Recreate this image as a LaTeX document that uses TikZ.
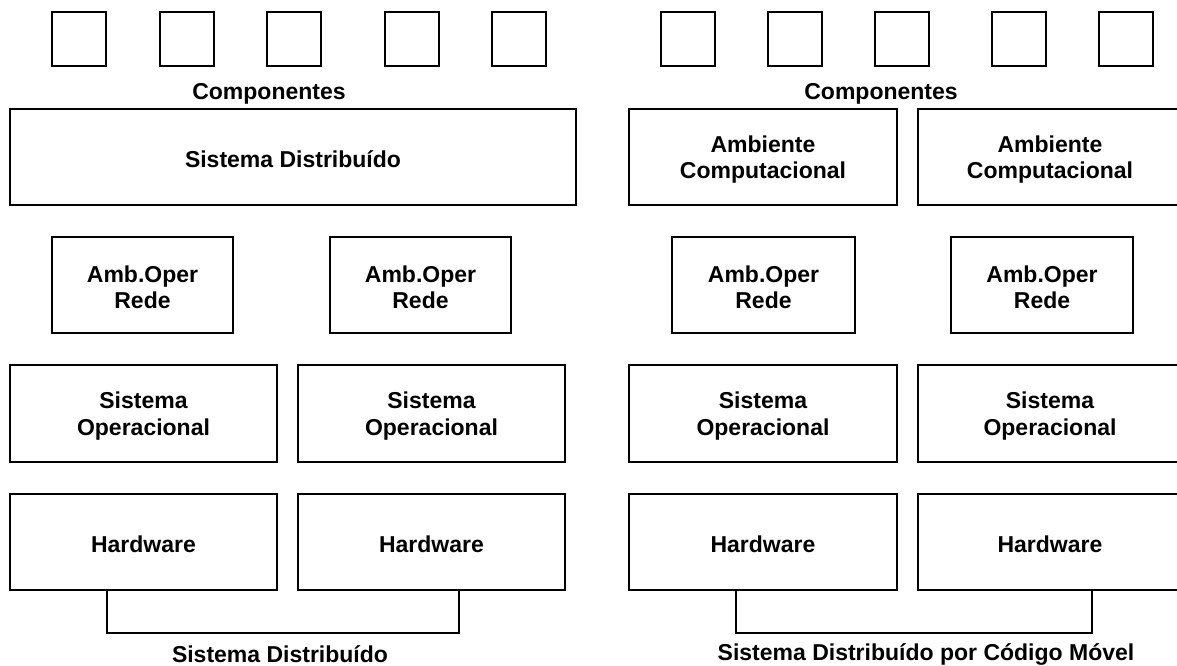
\documentclass[tikz,border=0pt]{standalone}
\usepackage{fontspec}
\setmainfont{Liberation Sans}
\tikzset{
  lbl/.style={inner sep=0pt, align=center, font=\bfseries\fontsize{23}{26.5}\selectfont},
  box/.style={draw=black, line width=1.2pt, rectangle, inner sep=0pt},
  link/.style={draw=black, line width=1.2pt}
}
\newcommand{\bx}[6]{%
  \node[box, minimum width={#4-#2}, minimum height={#5-#3},
    label={[lbl, yshift=-2.5pt]center:{#6}}] (#1) at ({(#2+#4)/2},{(#3+#5)/2}) {};}
\begin{document}
\begin{tikzpicture}[x=1pt,y=-1pt]
\useasboundingbox (0,0) rectangle (1177,666);
\clip (0,0) rectangle (1177,666);
% left column - components
\bx{cl1}{52}{12}{106}{66}{}
\bx{cl2}{160}{12}{214}{66}{}
\bx{cl3}{267}{12}{321}{66}{}
\bx{cl4}{385}{12}{439}{66}{}
\bx{cl5}{492}{12}{546}{66}{}
\node[lbl] (compl) at (269,94) {Componentes};
\bx{sdl}{10}{109}{576}{205}{Sistema Distribuído}
\bx{aol1}{52}{237}{233}{333}{Amb.Oper\\Rede}
\bx{aol2}{330}{237}{511}{333}{Amb.Oper\\Rede}
\bx{sol1}{10}{365}{277}{462}{Sistema\\Operacional}
\bx{sol2}{298}{365}{565}{462}{Sistema\\Operacional}
\bx{hwl1}{10}{494}{277}{590}{Hardware}
\bx{hwl2}{298}{494}{565}{590}{Hardware}
\coordinate (bl1) at (107,633);
\coordinate (bl2) at (459,633);
\draw[link] (bl1 |- hwl1.south) -- (bl1) -- (bl2) -- (bl2 |- hwl2.south);
\node[lbl] (capl) at (280,654) {Sistema Distribuído};
% right column
\bx{cr1}{661}{12}{715}{66}{}
\bx{cr2}{768}{12}{822}{66}{}
\bx{cr3}{875}{12}{929}{66}{}
\bx{cr4}{992}{12}{1046}{66}{}
\bx{cr5}{1099}{12}{1153}{66}{}
\node[lbl] (compr) at (881,94) {Componentes};
\bx{acr1}{629}{109}{897}{205}{Ambiente\\Computacional}
\bx{acr2}{918}{109}{1182}{205}{Ambiente\\Computacional}
\bx{aor1}{672}{237}{855}{333}{Amb.Oper\\Rede}
\bx{aor2}{951}{237}{1133}{333}{Amb.Oper\\Rede}
\bx{sor1}{629}{365}{897}{462}{Sistema\\Operacional}
\bx{sor2}{918}{365}{1182}{462}{Sistema\\Operacional}
\bx{hwr1}{629}{494}{897}{590}{Hardware}
\bx{hwr2}{918}{494}{1182}{590}{Hardware}
\coordinate (br1) at (736,633);
\coordinate (br2) at (1092,633);
\draw[link] (br1 |- hwr1.south) -- (br1) -- (br2) -- (br2 |- hwr2.south);
\node[lbl] (capr) at (926,654) {Sistema Distribuído por Código Móvel};
\end{tikzpicture}
\end{document}
